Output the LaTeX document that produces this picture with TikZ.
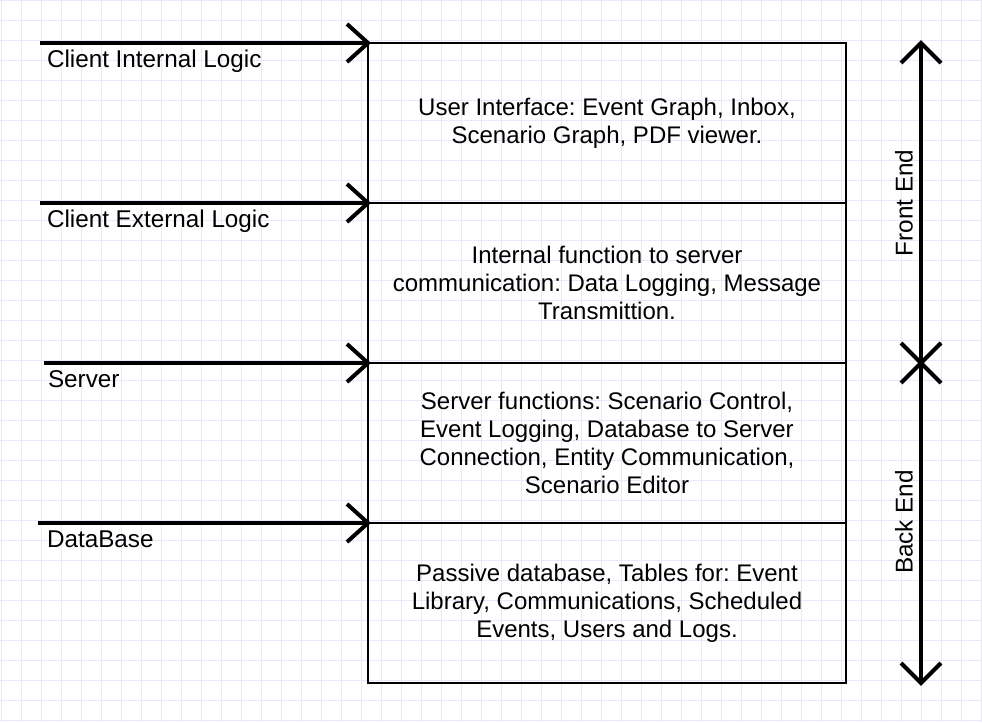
\documentclass[tikz,border=0pt]{standalone}
\usepackage{fontspec}
\setmainfont{Liberation Sans}
\usetikzlibrary{calc}
\definecolor{gridc}{RGB}{232,232,248}
\frenchspacing
\begin{document}
\begin{tikzpicture}[x=0.75pt,y=-0.75pt,
  rowbox/.style={draw=black, line width=1.5pt, minimum width=358.5pt, minimum height=120pt,
    inner sep=0pt, outer sep=0pt, align=center, anchor=north west,
    font=\fontsize{18}{21}\selectfont},
  lbl/.style={inner sep=0pt, outer sep=0pt, font=\fontsize{18.2}{21}\selectfont},
  thickline/.style={draw=black, line width=3pt, line join=miter},
  gridline/.style={draw=gridc, line width=0.75pt}]
\useasboundingbox (0,0) rectangle (982,722);
\fill[white] (0,0) rectangle (982,722);
% grid
\foreach \x in {1.7,21.7,...,981.7} \draw[gridline] (\x,0) -- (\x,722);
\foreach \y in {0.5,20.5,...,720.5} \draw[gridline] (0,\y) -- (982,\y);

% boxes
\node[rowbox] (r1) at (368,43) {User Interface: Event Graph, Inbox,\\Scenario Graph, PDF viewer.};
\node[rowbox] (r2) at (368,203) {Internal function to server\\communication: Data Logging, Message\\Transmittion.};
\node[rowbox] (r3) at (368,363) {Server functions: Scenario Control,\\Event Logging, Database to Server\\Connection, Entity Communication,\\Scenario Editor};
\node[rowbox] (r4) at (368,523) {Passive database, Tables for: Event\\Library, Communications, Scheduled\\Events, Users and Logs.};

% left arrows
\coordinate (s1) at (40,43);
\coordinate (s2) at (40,203);
\coordinate (s3) at (44,363);
\coordinate (s4) at (38,523);
\foreach \s/\r in {s1/r1,s2/r2,s3/r3,s4/r4}{
  \draw[thickline] (\s) -- (\r.north west);
  \draw[thickline] ($(\r.north west)+(-21,-19)$) -- (\r.north west) -- ($(\r.north west)+(-21,19)$);
}

% left labels
\node[lbl, anchor=base west] (l1) at (47,67) {Client Internal Logic};
\node[lbl, anchor=base west] (l2) at (47,227) {Client External Logic};
\node[lbl, anchor=base west] (l3) at (48,387) {Server};
\node[lbl, anchor=base west] (l4) at (47,547) {DataBase};

% right double arrow
\coordinate (ft) at (921,43);
\coordinate (fx) at (921,363);
\coordinate (fb) at (921,683);
\draw[thickline] (ft) -- (fb);
\draw[thickline] ($(ft)+(-20,20)$) -- (ft) -- ($(ft)+(20,20)$);
\draw[thickline] ($(fb)+(-20,-20)$) -- (fb) -- ($(fb)+(20,-20)$);
\draw[thickline] ($(fx)+(-20,-20)$) -- ($(fx)+(20,20)$);
\draw[thickline] ($(fx)+(-20,20)$) -- ($(fx)+(20,-20)$);

\node[lbl, rotate=90] (fe) at (904,203) {Front End};
\node[lbl, rotate=90] (be) at (904,522) {Back End};
\end{tikzpicture}
\end{document}
